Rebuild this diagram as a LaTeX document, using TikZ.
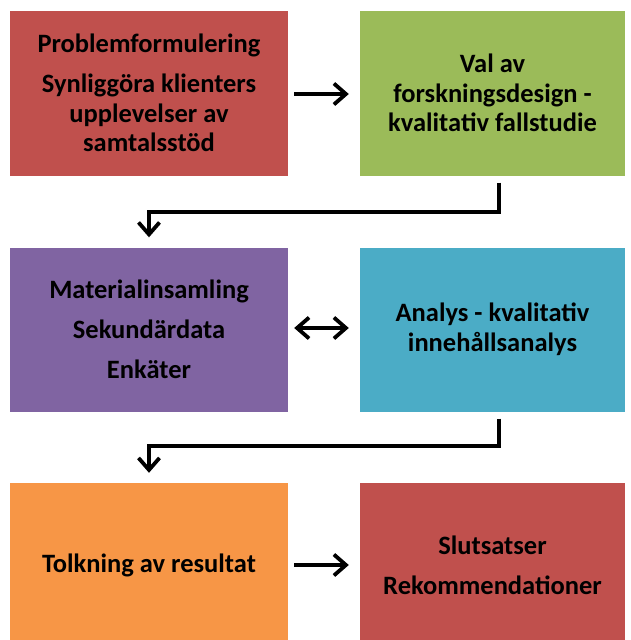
\documentclass[tikz,border=0pt]{standalone}
\usepackage{fontspec}
\setmainfont{Carlito}
\usetikzlibrary{arrows.meta}
\definecolor{boxred}{HTML}{C0504D}
\definecolor{boxgreen}{HTML}{9BBB59}
\definecolor{boxpurple}{HTML}{8064A2}
\definecolor{boxteal}{HTML}{4BACC6}
\definecolor{boxorange}{HTML}{F79646}
\tikzset{
  barb/.tip={Straight Barb[length=12pt,width=21pt,line join=miter]}
}
\begin{document}
\begin{tikzpicture}[x=1pt,y=-1pt,
  stagetext/.style={align=center, inner sep=0pt,
    font=\bfseries\fontsize{26.5}{29.5}\selectfont},
  stage/.style={fill=#1, draw=none, stagetext},
  flow/.style={line width=3.8pt, line join=miter, draw=black, -barb},
  both/.style={flow, barb-barb}
]
\useasboundingbox (0,0) rectangle (631,640);

% stage boxes
\node[stage=boxred, minimum width=278pt, minimum height=165pt] (b1) at (149,93)
  {Problemformulering\\[10.5pt]Synliggöra klienters\\upplevelser av\\samtalsstöd};
\node[stage=boxgreen, minimum width=265pt, minimum height=165pt] (b2) at (492.5,93)
  {Val av\\forskningsdesign -\\kvalitativ fallstudie};
\node[stage=boxpurple, minimum width=278pt, minimum height=164pt] (b3) at (149,329.5)
  {Materialinsamling\\[10.5pt]Sekundärdata\\[10.5pt]Enkäter};
\node[stage=boxteal, minimum width=265pt, minimum height=164pt] (b4) at (492.5,329.5)
  {Analys - kvalitativ\\innehållsanalys};
% bottom row: text sits a little below the box centre
\node[stage=boxorange, minimum width=278pt, minimum height=157pt,
  label={[stagetext, yshift=-4pt]center:Tolkning av resultat}] (b5) at (149,561.5) {};
\node[stage=boxred, minimum width=265pt, minimum height=157pt,
  label={[stagetext, yshift=-3.5pt]center:Slutsatser\\[10.5pt]Rekommendationer}] (b6) at (492.5,561.5) {};

% connectors
\draw[flow, shorten <=6pt, shorten >=11pt] (b1.east |- 0,94) -- (b2.west |- 0,94);
\draw[flow, shorten <=7pt, shorten >=10pt] ([xshift=6.5pt]b2.south) |- (149,212) -- (b3.north);
\draw[both, shorten <=6pt, shorten >=11pt] (b3.east |- 0,328) -- (b4.west |- 0,328);
\draw[flow, shorten <=7pt, shorten >=10pt] ([xshift=6.5pt]b4.south) |- (149,446) -- (b5.north);
\draw[flow, shorten <=6pt, shorten >=11pt] (b5.east |- 0,565) -- (b6.west |- 0,565);
\end{tikzpicture}
\end{document}
